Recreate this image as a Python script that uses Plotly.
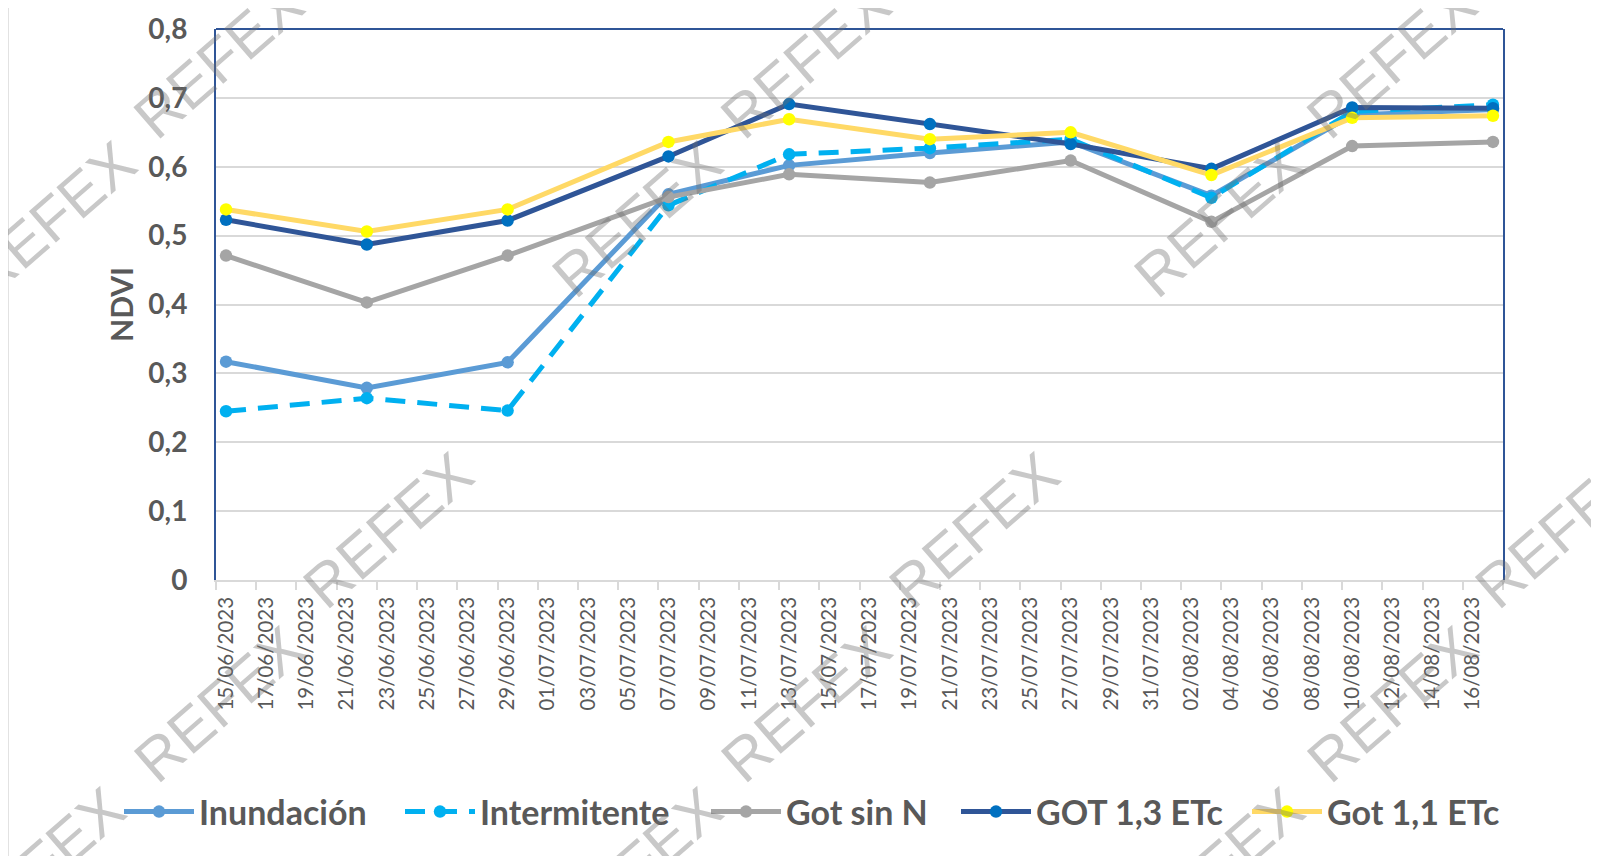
import plotly.graph_objects as go

dates = ["2023-06-15", "2023-06-22", "2023-06-29", "2023-07-07", "2023-07-13",
         "2023-07-20", "2023-07-27", "2023-08-03", "2023-08-10", "2023-08-17"]

inundacion = [0.317, 0.279, 0.316, 0.560, 0.602, 0.620, 0.636, 0.558, 0.675, 0.683]
intermitente = [0.245, 0.264, 0.246, 0.544, 0.618, 0.627, 0.640, 0.555, 0.680, 0.690]
got_sin_n = [0.471, 0.403, 0.471, 0.556, 0.589, 0.577, 0.609, 0.520, 0.630, 0.636]
got_13 = [0.523, 0.487, 0.522, 0.615, 0.691, 0.662, 0.633, 0.597, 0.686, 0.685]
got_11 = [0.538, 0.506, 0.538, 0.636, 0.669, 0.640, 0.650, 0.588, 0.671, 0.674]

series = [
    ("Inundación", inundacion, "#5B9BD5", "#5B9BD5", "solid"),
    ("Intermitente", intermitente, "#00B0F0", "#00B0F0", "20px,12px"),
    ("Got sin N", got_sin_n, "#A5A5A5", "#A5A5A5", "solid"),
    ("GOT 1,3 ETc", got_13, "#2F5597", "#0070C0", "solid"),
    ("Got 1,1 ETc", got_11, "#FFD966", "#FFFF00", "solid"),
]

TXT = "#595959"
DAY = 86400000
OFF = 8  # default page body margin
PL, PT, PR, PB = 216, 29, 1503, 580  # plot area in page pixels
W, H = 1599 - OFF, 856 - OFF
L, T = PL - OFF, PT - OFF
R = W - (PR - OFF)
B = H - (PB - OFF)
PW, PH = PR - PL, PB - PT

def px(xp):
    return (xp - PL) / PW

def py(yp):
    return (PB - yp) / PH

legend_ids = ["legend", "legend2", "legend3", "legend4", "legend5"]
legend_left = [119, 400, 706, 956, 1247]  # page px where each legend entry starts

fig = go.Figure()
for (name, vals, lc, mc, dash), lid in zip(series, legend_ids):
    fig.add_trace(go.Scatter(
        x=dates, y=vals, name=name, mode="lines+markers", legend=lid,
        line=dict(color=lc, width=5, dash=dash),
        marker=dict(color=mc, size=12.5, line=dict(width=0)),
    ))

legends = {}
for lid, xl in zip(legend_ids, legend_left):
    legends[lid] = dict(orientation="h", xref="paper", yref="paper",
                        x=px(xl), xanchor="left", y=py(812), yanchor="middle",
                        font=dict(family="Lato", size=34, color=TXT, weight="bold"),
                        itemwidth=70, bgcolor="rgba(0,0,0,0)")

# watermark positions (page pixel centres)
wm = [(219, 61), (806, 61), (1392, 61),
      (51, 219), (637, 219), (1219, 219),
      (388, 530), (974, 530), (1560, 530),
      (219, 704), (806, 704), (1392, 704),
      (40, 865), (637, 865), (1219, 865)]
annotations = [dict(text="REFEX", x=px(a), y=py(b), xref="paper", yref="paper",
                    xanchor="center", yanchor="middle",
                    showarrow=False, textangle=-41,
                    font=dict(family="Liberation Sans", size=60,
                              color="rgba(110,110,110,0.38)"))
               for a, b in wm]

fig.update_layout(
    width=W, height=H,
    margin=dict(l=L, r=R, t=T, b=B, autoexpand=False),
    paper_bgcolor="white", plot_bgcolor="white",
    separators=", ",
    showlegend=True,
    xaxis=dict(
        type="date",
        range=["2023-06-14 12:00", "2023-08-17 12:00"],
        tick0="2023-06-15", dtick=2 * DAY, tickformat="%d/%m/%Y",
        tickangle=-90, ticks="", ticklabelstandoff=7,
        tickfont=dict(family="Lato", size=20.5, color=TXT),
        showgrid=False, zeroline=False,
        showline=True, linecolor="#D9D9D9", linewidth=1.5,
        minor=dict(ticks="outside", ticklen=8, tickcolor="#D9D9D9", tickwidth=1.5,
                   tick0="2023-06-14 12:00", dtick=2 * DAY, showgrid=False),
    ),
    yaxis=dict(
        range=[0, 0.8], dtick=0.1, tick0=0,
        showgrid=True, gridcolor="#D9D9D9", gridwidth=1.5,
        zeroline=False,
        showline=True, linecolor="#2F5597", linewidth=2, mirror=True,
        ticks="", ticklabelstandoff=21,
        tickfont=dict(family="Lato", size=28, color=TXT, weight="bold"),
        title=dict(text="NDVI", standoff=6,
                   font=dict(family="Lato", size=30, color=TXT, weight="bold")),
    ),
    shapes=[
        dict(type="line", xref="paper", yref="paper", x0=0, x1=1, y0=1, y1=1,
             line=dict(color="#2F5597", width=2)),
        dict(type="line", xref="paper", yref="paper", x0=px(8), x1=px(8),
             y0=py(0), y1=py(856), line=dict(color="#D9D9D9", width=1.5)),
    ],
    annotations=annotations,
    **legends,
)

fig.write_html("out.html")
